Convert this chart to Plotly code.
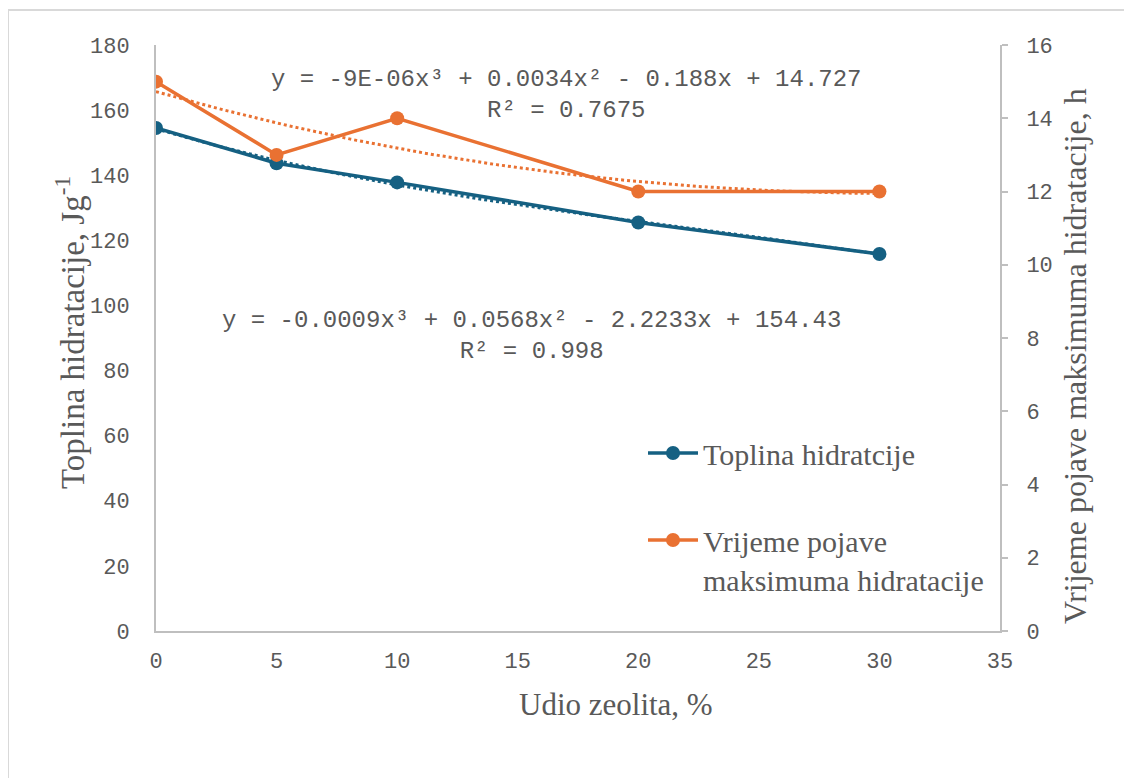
import numpy as np
import plotly.graph_objects as go

# udio zeolita, %
zeolit = [0, 5, 10, 20, 30]
# toplina hidratacije, J/g
toplina = [154.5, 143.7, 137.8, 125.5, 115.8]
# vrijeme pojave maksimuma hidratacije, h
vrijeme = [15, 13, 14, 12, 12]

x_ticks = [0, 5, 10, 15, 20, 25, 30, 35]
eq_vrijeme = "y = -9E-06x³ + 0.0034x² - 0.188x + 14.727<br>R² = 0.7675"
eq_toplina = "y = -0.0009x³ + 0.0568x² - 2.2233x + 154.43<br>R² = 0.998"

BLUE = "#156082"
ORANGE = "#E97132"
GREY = "#595959"
AXIS = "#bfbfbf"
MONO = "Liberation Mono, Courier New, monospace"
SERIF = "Liberation Serif, Times New Roman, serif"

# kubni trend (kao Excel trendline)
xs = np.linspace(min(zeolit), max(zeolit), 120)
trend_t = np.polyval(np.polyfit(zeolit, toplina, 3), xs)
trend_v = np.polyval(np.polyfit(zeolit, vrijeme, 3), xs)

fig = go.Figure()
fig.add_trace(go.Scatter(x=xs, y=trend_t, mode="lines", showlegend=False,
                         line=dict(color=BLUE, width=3, dash="dot"), hoverinfo="skip"))
fig.add_trace(go.Scatter(x=xs, y=trend_v, mode="lines", showlegend=False, yaxis="y2",
                         line=dict(color=ORANGE, width=3, dash="dot"), hoverinfo="skip"))
fig.add_trace(go.Scatter(x=zeolit, y=toplina, mode="lines+markers", name="Toplina hidratcije",
                         legendgroup="a",
                         line=dict(color=BLUE, width=3.5), marker=dict(size=14, color=BLUE)))
fig.add_trace(go.Scatter(x=zeolit, y=vrijeme, mode="lines+markers", yaxis="y2",
                         name="Vrijeme pojave<br>maksimuma hidratacije", legendgroup="b",
                         line=dict(color=ORANGE, width=3.5), marker=dict(size=14, color=ORANGE)))

# stranica ima 8px margine, pa sve pomaknemo
OFF = 8
W, H = 1132, 778
L, R, T, B = 156 - OFF, 1000 - OFF, 45 - OFF, 631 - OFF


def px(xp):
    return (xp - OFF - L) / (R - L)


def py(yp):
    return (B - (yp - OFF)) / (B - T)


fig.update_layout(
    width=W, height=H,
    margin=dict(l=L, r=W - R, t=T, b=H - B),
    paper_bgcolor="white", plot_bgcolor="white",
    font=dict(family=MONO, color=GREY, size=20),
    xaxis=dict(range=[0, 35], tickvals=x_ticks, showgrid=False, zeroline=False,
               showline=True, linecolor=AXIS, linewidth=2, ticks="",
               tickfont=dict(family=MONO, size=22, color=GREY), ticklabelstandoff=9),
    yaxis=dict(range=[0, 180], dtick=20, showgrid=False, zeroline=False,
               showline=True, linecolor=AXIS, linewidth=2, ticks="",
               tickfont=dict(family=MONO, size=22, color=GREY), ticklabelstandoff=20),
    yaxis2=dict(range=[0, 16], dtick=2, overlaying="y", side="right", showgrid=False,
                zeroline=False, showline=True, linecolor=AXIS, linewidth=2,
                ticks="outside", ticklen=6, tickcolor=AXIS, tickwidth=2,
                tickfont=dict(family=MONO, size=22, color=GREY), ticklabelstandoff=14),
    legend=dict(x=px(643), y=py(427), xanchor="left", yanchor="top", valign="top",
                font=dict(family=SERIF, size=30, color=GREY), bgcolor="rgba(0,0,0,0)",
                tracegroupgap=45, itemwidth=50),
    showlegend=True,
)

# naslovi osi
fig.add_annotation(text="Udio zeolita, %", xref="paper", yref="paper",
                   x=px(616), y=py(705), xanchor="center", yanchor="middle", showarrow=False,
                   font=dict(family=SERIF, size=31, color=GREY))
fig.add_annotation(text="Toplina hidratacije, Jg<sup>-1</sup>", xref="paper", yref="paper",
                   x=px(70), y=py(333), xanchor="center", yanchor="middle", showarrow=False,
                   textangle=-90, font=dict(family=SERIF, size=33, color=GREY))
fig.add_annotation(text="Vrijeme pojave maksimuma hidratacije, h", xref="paper", yref="paper",
                   x=px(1075), y=py(356), xanchor="center", yanchor="middle", showarrow=False,
                   textangle=-90, font=dict(family=SERIF, size=32, color=GREY))

# jednadžbe trendova
fig.add_annotation(text=eq_vrijeme, xref="paper", yref="paper", x=px(566), y=py(95),
                   yanchor="middle", showarrow=False,
                   font=dict(family=MONO, size=24, color=GREY))
fig.add_annotation(text=eq_toplina, xref="paper", yref="paper", x=px(531), y=py(336),
                   yanchor="middle", showarrow=False,
                   font=dict(family=MONO, size=24, color=GREY))

# okvir grafikona
fig.add_shape(type="rect", xref="paper", yref="paper",
              x0=px(8), x1=px(1145), y0=py(790), y1=py(10),
              line=dict(color="#d9d9d9", width=2), layer="below")

fig.write_html("out.html")
